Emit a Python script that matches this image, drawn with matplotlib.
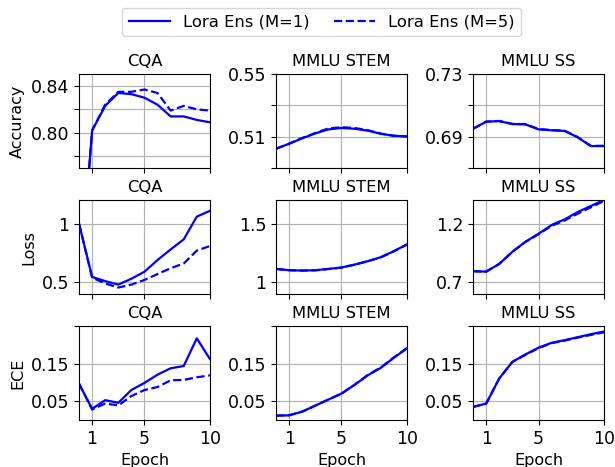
import numpy as np
import matplotlib
matplotlib.use("Agg")
import matplotlib.pyplot as plt

plt.rcParams['font.size'] = 12

epochs = np.arange(0, 11)
datasets = ['CQA', 'MMLU STEM', 'MMLU SS']
metrics = ['Accuracy', 'Loss', 'ECE']

# accuracy
acc_cqa_m1 = [0.66, 0.802, 0.823, 0.834, 0.833, 0.830, 0.824, 0.814, 0.814, 0.811, 0.809]
acc_cqa_m5 = [0.66, 0.802, 0.824, 0.835, 0.835, 0.837, 0.834, 0.819, 0.823, 0.820, 0.819]
acc_stem_m1 = [0.5023, 0.5055, 0.509, 0.5121, 0.5147, 0.5156, 0.5151, 0.5139, 0.5119, 0.5106, 0.5102]
acc_stem_m5 = [0.5023, 0.5056, 0.5092, 0.5124, 0.5153, 0.5161, 0.5156, 0.5142, 0.5120, 0.5106, 0.5102]
acc_ss_m1 = [0.6951, 0.6996, 0.7000, 0.6981, 0.6979, 0.6947, 0.6941, 0.6937, 0.6896, 0.6840, 0.6840]
acc_ss_m5 = [0.6951, 0.6997, 0.7001, 0.6982, 0.6981, 0.6949, 0.6943, 0.6938, 0.6897, 0.6841, 0.6842]

# loss
loss_cqa_m1 = [1.0, 0.546, 0.51, 0.48, 0.53, 0.59, 0.69, 0.78, 0.866, 1.06, 1.11]
loss_cqa_m5 = [1.0, 0.54, 0.49, 0.455, 0.48, 0.52, 0.57, 0.62, 0.66, 0.77, 0.81]
loss_stem_m1 = [1.114, 1.103, 1.10, 1.103, 1.114, 1.126, 1.151, 1.18, 1.214, 1.266, 1.323]
loss_stem_m5 = [1.114, 1.103, 1.10, 1.102, 1.113, 1.125, 1.150, 1.179, 1.212, 1.264, 1.321]
loss_ss_m1 = [0.794, 0.791, 0.857, 0.96, 1.046, 1.114, 1.189, 1.237, 1.30, 1.351, 1.403]
loss_ss_m5 = [0.794, 0.791, 0.857, 0.96, 1.044, 1.110, 1.182, 1.228, 1.286, 1.34, 1.394]

# ece
ece_cqa_m1 = [0.097, 0.030, 0.053, 0.046, 0.080, 0.099, 0.121, 0.138, 0.144, 0.218, 0.163]
ece_cqa_m5 = [0.097, 0.028, 0.044, 0.039, 0.064, 0.080, 0.088, 0.106, 0.107, 0.114, 0.119]
ece_stem_m1 = [0.0116, 0.0125, 0.0223, 0.0384, 0.0545, 0.0705, 0.0938, 0.119, 0.139, 0.166, 0.191]
ece_stem_m5 = [0.0118, 0.0127, 0.0225, 0.0386, 0.0546, 0.0706, 0.0940, 0.120, 0.140, 0.167, 0.192]
ece_ss_m1 = [0.035, 0.0438, 0.111, 0.155, 0.175, 0.193, 0.206, 0.213, 0.221, 0.229, 0.236]
ece_ss_m5 = [0.035, 0.0438, 0.111, 0.155, 0.174, 0.192, 0.205, 0.212, 0.220, 0.227, 0.234]

m1 = [[acc_cqa_m1, acc_stem_m1, acc_ss_m1],
      [loss_cqa_m1, loss_stem_m1, loss_ss_m1],
      [ece_cqa_m1, ece_stem_m1, ece_ss_m1]]
m5 = [[acc_cqa_m5, acc_stem_m5, acc_ss_m5],
      [loss_cqa_m5, loss_stem_m5, loss_ss_m5],
      [ece_cqa_m5, ece_stem_m5, ece_ss_m5]]

ylims = [[(0.77, 0.85), (0.49, 0.55), (0.67, 0.73)],
         [(0.4, 1.2), (0.9, 1.7), (0.6, 1.4)],
         [(0.0, 0.25), (0.0, 0.25), (0.0, 0.25)]]
yticks = [[[0.78, 0.80, 0.82, 0.84], [0.49, 0.51, 0.53, 0.55], [0.67, 0.69, 0.71, 0.73]],
          [[0.5, 1.0], [1.0, 1.5], [0.7, 1.2]],
          [[0.05, 0.15, 0.25], [0.05, 0.15, 0.25], [0.05, 0.15, 0.25]]]
yticklabels = [[['', '0.80', '', '0.84'], ['', '0.51', '', '0.55'], ['', '0.69', '', '0.73']],
               [['0.5', '1'], ['1', '1.5'], ['0.7', '1.2']],
               [['0.05', '0.15', ''], ['0.05', '0.15', ''], ['0.05', '0.15', '']]]

fig, axes = plt.subplots(3, 3, figsize=(6.15, 4.67), dpi=100, sharex=True)
fig.subplots_adjust(left=0.1285, right=0.982, top=0.841, bottom=0.1006,
                    wspace=0.506, hspace=0.345)

for i in range(3):
    for j in range(3):
        ax = axes[i, j]
        l1, = ax.plot(epochs, m1[i][j], color='blue', linestyle='-', lw=1.6,
                      label='Lora Ens (M=1)')
        l2, = ax.plot(epochs, m5[i][j], color='blue', linestyle='--', lw=1.6,
                      label='Lora Ens (M=5)')
        ax.set_title(datasets[j], fontsize=11.8)
        ax.set_xlim(0, 10)
        ax.set_xticks([1, 5, 10])
        ax.set_ylim(*ylims[i][j])
        ax.set_yticks(yticks[i][j])
        ax.set_yticklabels(yticklabels[i][j])
        ax.tick_params(labelsize=12.5)
        ax.grid(True, color='#b0b0b0', lw=0.8)
        if j == 0:
            ax.set_ylabel(metrics[i], fontsize=11.5)
        if i == 2:
            ax.set_xlabel('Epoch', fontsize=11.5)

fig.legend(handles=[l1, l2], loc='upper center', bbox_to_anchor=(0.523, 1.0),
           ncol=2, fontsize=11.8, handlelength=2.5, columnspacing=1.5)

fig.savefig('out.png', dpi=100)
